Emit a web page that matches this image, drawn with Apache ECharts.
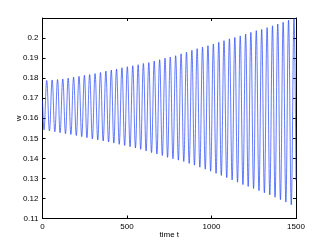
<!DOCTYPE html>
<html>
<head>
<meta charset="utf-8">
<script src="https://cdn.jsdelivr.net/npm/echarts@6/dist/echarts.min.js"></script>
<style>
  html, body { margin: 0; padding: 0; background: #fff; }
  #chart { width: 327px; height: 246px; }
</style>
</head>
<body>
<div id="chart"></div>
<script>
// values: start/end points, troughs and peaks of the oscillation
var startPoint = [0, 0.169];
var endPoint = [1500, 0.129];

var troughT = [9, 41, 73, 104, 136, 168, 200, 232, 263, 295, 327, 359, 391, 422, 454, 486,
  518, 550, 581, 613, 645, 677, 709, 740, 772, 804, 836, 868, 899, 931, 963, 995,
  1027, 1058, 1090, 1122, 1154, 1186, 1217, 1249, 1281, 1313, 1345, 1376, 1408, 1440, 1472];
var troughW = [0.1542, 0.1537, 0.1533, 0.1528, 0.1523, 0.1519, 0.1514, 0.1508, 0.1503, 0.1497,
  0.1492, 0.1487, 0.1482, 0.1476, 0.1470, 0.1464, 0.1458, 0.1452, 0.1445, 0.1437,
  0.1429, 0.1422, 0.1414, 0.1405, 0.1398, 0.1391, 0.1384, 0.1375, 0.1366, 0.1356,
  0.1346, 0.1336, 0.1325, 0.1315, 0.1304, 0.1292, 0.1281, 0.1269, 0.1260, 0.1250,
  0.1239, 0.1228, 0.1218, 0.1206, 0.1194, 0.1182, 0.1168];

var peakT = [25, 57, 89, 120, 152, 184, 216, 248, 279, 311, 343, 375, 407, 438, 470, 502,
  534, 566, 597, 629, 661, 693, 725, 756, 788, 820, 852, 884, 915, 947, 979, 1011,
  1043, 1074, 1106, 1138, 1170, 1202, 1233, 1265, 1297, 1329, 1361, 1392, 1424, 1456, 1488];
var peakW = [0.1788, 0.1791, 0.1793, 0.1796, 0.1800, 0.1805, 0.1809, 0.1814, 0.1818, 0.1823,
  0.1828, 0.1835, 0.1840, 0.1845, 0.1852, 0.1857, 0.1862, 0.1867, 0.1873, 0.1878,
  0.1885, 0.1892, 0.1900, 0.1905, 0.1912, 0.1921, 0.1930, 0.1939, 0.1947, 0.1955,
  0.1962, 0.1970, 0.1979, 0.1987, 0.1996, 0.2003, 0.2011, 0.2020, 0.2028, 0.2037,
  0.2043, 0.2052, 0.2061, 0.2070, 0.2079, 0.2089, 0.2099];

var xTicks = { min: 0, max: 1500, interval: 500 };
var yTicks = { min: 0.11, max: 0.21, interval: 0.01 };

// trough, peak, trough, peak ... in time order
var points = [startPoint];
for (var i = 0; i < peakT.length; i++) {
  points.push([troughT[i], troughW[i]]);
  points.push([peakT[i], peakW[i]]);
}
points.push(endPoint);

var font = 'Liberation Sans, Arial, sans-serif';
var frame = { show: true, onZero: false, lineStyle: { color: '#000', width: 1 } };
var tick = { show: true, inside: true, length: 3, lineStyle: { color: '#000', width: 1 } };

var chart = echarts.init(document.getElementById('chart'), null, { renderer: 'canvas' });
chart.setOption({
  animation: false,
  backgroundColor: '#fff',
  grid: { left: 42.5, right: 31, top: 18, bottom: 27.5, containLabel: false },
  xAxis: [{
    type: 'value',
    min: xTicks.min, max: xTicks.max, interval: xTicks.interval,
    position: 'bottom',
    axisLine: frame, axisTick: tick,
    splitLine: { show: false },
    axisLabel: {
      fontSize: 8, fontFamily: font, color: '#000', margin: 4,
      formatter: function (v) { return String(v); }
    },
    name: 'time t', nameLocation: 'middle', nameGap: 12, nameMoveOverlap: false,
    nameTextStyle: { fontSize: 8, fontFamily: font, color: '#000' }
  }, {
    type: 'value',
    min: xTicks.min, max: xTicks.max, interval: xTicks.interval,
    position: 'top',
    axisLine: frame, axisTick: tick,
    splitLine: { show: false },
    axisLabel: { show: false }
  }],
  yAxis: [{
    type: 'value',
    min: yTicks.min, max: yTicks.max, interval: yTicks.interval,
    position: 'left',
    axisLine: frame, axisTick: tick,
    splitLine: { show: false },
    axisLabel: {
      fontSize: 8, fontFamily: font, color: '#000', margin: 4,
      formatter: function (v) { return v > 0.205 ? '' : String(+v.toFixed(2)); }
    },
    name: 'w', nameLocation: 'middle', nameGap: 20, nameMoveOverlap: false,
    nameTextStyle: { fontSize: 8, fontFamily: font, color: '#000' }
  }, {
    type: 'value',
    min: yTicks.min, max: yTicks.max, interval: yTicks.interval,
    position: 'right',
    axisLine: frame, axisTick: tick,
    splitLine: { show: false },
    axisLabel: { show: false }
  }],
  series: [{
    type: 'line',
    data: points,
    xAxisIndex: 0,
    yAxisIndex: 0,
    smooth: 0.4,
    showSymbol: false,
    symbol: 'none',
    lineStyle: { color: '#1a3cff', width: 0.8, opacity: 0.85 }
  }]
});
</script>
</body>
</html>
